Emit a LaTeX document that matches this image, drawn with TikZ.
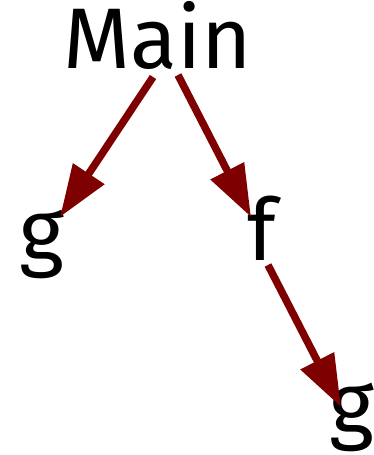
\documentclass[tikz,border=0pt]{standalone}
\usepackage{fontspec}
\setmainfont{Fira Sans}
\usetikzlibrary{arrows.meta,calc}
\definecolor{edgered}{HTML}{7F0000}
\tikzset{
  lbl/.style={anchor=base,inner sep=0pt,font=\fontsize{86}{86}\selectfont,text=black},
  edge/.style={draw=edgered,line width=7.5pt,-{Triangle[length=52pt,width=36pt]},fill=edgered}
}
\begin{document}
\begin{tikzpicture}[x=1pt,y=-1pt]
\useasboundingbox (0,0) rectangle (374,455);
\node[lbl] (m) at (158,68) {Main};
\node[lbl] (g1) at (42,260) {g};
\node[lbl] (f) at (262,260) {f};
\node[lbl] (g2) at (352,433) {g};
\draw[edge] ($(m.base)+(-5,9)$) -- ($(g1.base)+(18,-43)$);
\draw[edge] ($(m.base)+(20,7)$) -- ($(f.base)+(-11,-43)$);
\draw[edge] ($(f.base)+(6,5)$) -- ($(g2.base)+(-11,-26)$);
\end{tikzpicture}
\end{document}
